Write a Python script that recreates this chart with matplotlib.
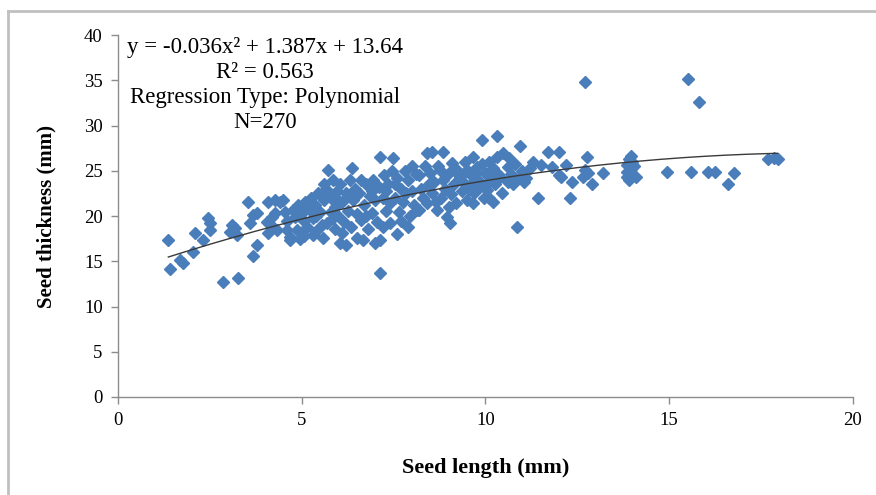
import numpy as np
import matplotlib
matplotlib.use("Agg")
import matplotlib.pyplot as plt
from matplotlib.lines import Line2D

plt.rcParams['font.family'] = ['Liberation Serif', 'DejaVu Serif']

# seed length (mm) / seed thickness (mm)
seed_length = [
    1.37, 1.41, 1.69, 1.77, 2.04, 2.10, 2.30, 2.45, 2.50, 2.50, 2.86,
    3.27, 3.10, 3.18, 3.05, 3.24, 3.54, 3.60, 3.67, 3.78, 3.78, 3.67, 4.08,
    4.27, 4.19, 4.27, 4.08, 4.22, 4.33, 4.05, 4.40, 4.50, 4.60, 4.68,
    4.68, 4.87, 4.82, 4.76, 4.90, 5.00, 5.05, 5.10, 5.15, 5.20, 5.25, 5.30,
    5.35, 5.40, 5.45, 5.50, 4.95, 5.05, 5.30, 4.60, 4.55, 5.15, 5.40,
    5.58, 5.71, 5.60, 5.65, 5.70, 5.75, 5.80, 5.85, 5.90, 5.90, 5.95, 6.04,
    6.10, 6.00, 6.05, 6.10, 6.15, 6.20, 6.25, 6.30, 6.37, 6.35, 6.40, 6.45,
    6.50, 6.50, 5.55, 5.60, 5.80, 6.20, 6.30, 6.00, 5.85,
    6.55, 6.60, 6.67, 6.70, 6.75, 6.80, 6.85, 6.90, 6.95, 7.00, 7.00, 7.05,
    7.10, 7.13, 7.13, 7.13, 7.20, 7.20, 7.25, 7.30, 7.35, 7.40, 7.40, 7.45,
    7.48, 6.60, 6.90, 7.30, 6.75, 7.00,
    7.55, 7.60, 7.60, 7.65, 7.70, 7.75, 7.80, 7.85, 7.90, 7.90, 7.95, 8.00,
    8.05, 8.10, 8.13, 8.20, 8.20, 8.25, 8.30, 8.35, 8.40, 8.40, 8.45, 7.70,
    8.00, 7.55,
    8.50, 8.54, 8.55, 8.60, 8.68, 8.70, 8.76, 8.80, 8.84, 8.85, 8.90, 8.95,
    9.00, 9.03, 9.05, 9.10, 9.15, 9.20, 9.25, 9.30, 9.35, 9.40, 9.45, 9.50,
    9.50, 8.65, 9.00, 9.20,
    9.55, 9.60, 9.66, 9.66, 9.70, 9.77, 9.80, 9.85, 9.90, 9.90, 9.95, 10.00,
    10.04, 10.10, 10.10, 10.15, 10.20, 10.20, 10.25, 10.30, 10.30, 10.35,
    10.40, 10.45, 10.48, 9.60, 9.75, 10.05,
    10.60, 10.60, 10.65, 10.70, 10.75, 10.80, 10.86, 10.90, 10.94, 11.00,
    11.05, 11.10, 11.20, 11.30, 11.43, 11.50,
    11.70, 11.80, 12.00, 12.00, 12.05, 12.20, 12.30, 12.35, 12.76, 12.70,
    12.80, 12.65, 12.90, 13.20, 12.70,
    13.85, 13.85, 13.85, 13.90, 13.90, 13.95, 14.00, 14.00, 14.05, 13.95,
    14.10, 13.90,
    14.94, 15.50, 15.60, 15.80, 16.05, 16.25, 16.60, 16.76, 17.70, 17.85, 17.95,
]
seed_thickness = [
    17.3, 14.2, 15.1, 14.8, 16.0, 18.1, 17.3, 19.8, 19.2, 18.5, 12.7,
    13.1, 19.0, 18.7, 18.2, 17.9, 21.5, 19.2, 20.1, 20.3, 16.8, 15.6, 21.5,
    21.8, 19.9, 20.3, 18.1, 18.8, 18.5, 19.3, 21.5, 21.8, 18.5, 17.3,
    17.7, 18.5, 19.9, 20.7, 21.2, 20.3, 19.5, 21.6, 18.8, 20.8, 22.0, 19.8,
    21.2, 18.4, 22.6, 20.5, 17.5, 17.8, 17.9, 19.5, 20.5, 21.0, 20.0,
    17.6, 25.1, 21.8, 23.0, 19.2, 22.3, 20.4, 24.0, 21.0, 18.6, 22.8, 17.0,
    18.1, 20.0, 23.5, 21.5, 19.3, 22.5, 20.6, 24.0, 25.3, 18.8, 21.8, 23.0,
    17.6, 20.2, 19.0, 23.5, 22.0, 16.8, 22.2, 21.8, 19.8,
    22.5, 19.6, 17.3, 21.2, 23.5, 18.6, 22.2, 20.3, 24.0, 17.0, 21.8, 19.3,
    23.2, 26.5, 17.3, 13.7, 18.8, 22.0, 24.5, 20.6, 23.6, 19.2, 21.4, 25.0,
    26.4, 24.0, 22.8, 22.8, 20.0, 23.6,
    22.0, 18.0, 24.2, 20.5, 23.0, 21.5, 25.0, 22.5, 18.8, 24.0, 20.0, 22.8,
    21.2, 24.6, 20.7, 24.5, 20.7, 23.0, 22.0, 25.5, 27.0, 21.4, 23.6, 19.5,
    25.5, 23.6,
    24.8, 27.1, 22.5, 23.8, 20.7, 25.5, 25.1, 22.0, 27.1, 24.0, 23.0, 19.9,
    24.8, 19.2, 22.4, 25.9, 23.5, 21.4, 24.6, 24.3, 22.8, 23.8, 26.0, 25.1,
    21.8, 21.5, 21.0, 25.2,
    23.0, 24.5, 26.5, 21.4, 22.5, 25.4, 24.0, 23.2, 28.4, 25.8, 22.0, 24.8,
    22.9, 22.0, 26.0, 24.2, 21.6, 25.3, 23.5, 28.9, 26.5, 24.6,
    24.3, 22.6, 27.0, 23.6, 24.8, 23.6,
    25.4, 23.8, 26.4, 24.6, 23.6, 25.8, 18.8, 24.2, 27.8, 25.0,
    23.8, 24.2, 25.3, 26.0, 22.0, 25.6,
    27.1, 25.4, 27.1, 24.5, 24.3, 25.6, 22.0, 23.8, 26.5, 25.1,
    24.75, 24.3, 23.6, 24.75, 34.8,
    24.3, 24.9, 25.6, 26.3, 24.0, 25.2, 26.0, 24.6, 25.5, 26.6,
    24.3, 25.9,
    24.9, 35.2, 24.9, 32.6, 24.9, 24.9, 23.5, 24.75, 26.3, 26.4, 26.3,
]

# fitted polynomial shown on the chart
coef = [-0.036, 1.387, 13.64]
fit_text = ["y = -0.036x² + 1.387x + 13.64", "R² = 0.563",
            "Regression Type: Polynomial", "N=270"]

x_ticks = [0, 5, 10, 15, 20]
y_ticks = [0, 5, 10, 15, 20, 25, 30, 35, 40]

fig = plt.figure(figsize=(8.76, 4.95), dpi=100)
ax = fig.add_axes([0.1347, 0.198, 0.839, 0.731])

ax.plot(seed_length, seed_thickness, 'D', color='#4A7EBB', mec='#4A7EBB',
        ms=6.4, zorder=2)

xs = np.linspace(min(seed_length), max(seed_length), 200)
ax.plot(xs, np.polyval(coef, xs), color='#3a3a3a', lw=1.0, zorder=3)

ax.set_xlim(0, 20)
ax.set_ylim(0, 40)
ax.set_xticks(x_ticks)
ax.set_yticks(y_ticks)
for s in ['top', 'right']:
    ax.spines[s].set_visible(False)
for s in ['left', 'bottom']:
    ax.spines[s].set_color('#8c8c8c')
    ax.spines[s].set_linewidth(1.0)
ax.tick_params(direction='out', length=5, width=1.0, color='#8c8c8c',
               labelsize=13.5, pad=6)

ax.set_xlabel('Seed length (mm)', fontsize=16, fontweight='bold', labelpad=21)
ax.set_ylabel('Seed thickness (mm)', fontsize=15, fontweight='bold', labelpad=20)

for i, t in enumerate(fit_text):
    fig.text(265 / 876, 1 - (47 + 25 * i) / 495, t, fontsize=16.5,
             ha='center', va='center')

# outer frame (left and top only)
fig.add_artist(Line2D([0.0091, 0.0091], [0, 0.978], transform=fig.transFigure,
                      color='#c0c0c0', lw=2))
fig.add_artist(Line2D([0.0091, 1], [0.978, 0.978], transform=fig.transFigure,
                      color='#c0c0c0', lw=2))

fig.savefig('out.png', dpi=100)
